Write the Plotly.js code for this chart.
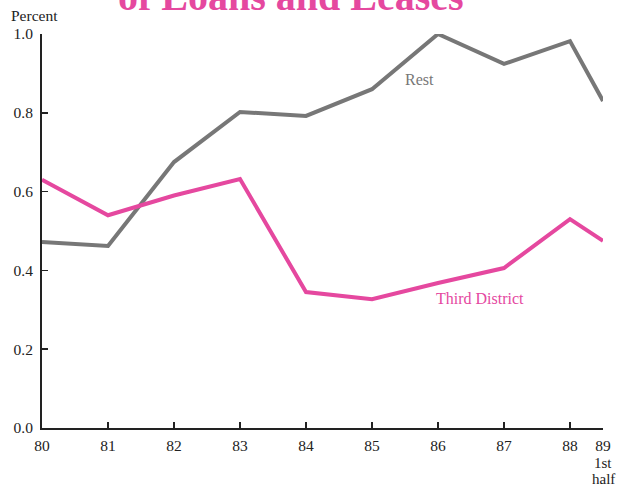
<!DOCTYPE html>
<html>
<head>
<meta charset="utf-8">
<script src="https://cdn.plot.ly/plotly-3.0.1.min.js"></script>
<style>html,body{margin:0;padding:0;background:#fff;}#chart{width:618px;height:488px;}</style>
</head>
<body>
<div id="chart"></div>
<script>
// x positions: years 80..88, then first half of 89 plotted at 88.5
const xPos = [80, 81, 82, 83, 84, 85, 86, 87, 88, 88.5];
const tickVals = [80, 81, 82, 83, 84, 85, 86, 87, 88, 88.5];
const tickText = ['80', '81', '82', '83', '84', '85', '86', '87', '88', '89'];
const lastTickSubLines = ['1st', 'half'];
const restValues = [0.472, 0.462, 0.675, 0.802, 0.792, 0.86, 1.0, 0.924, 0.982, 0.83];
const thirdValues = [0.63, 0.54, 0.59, 0.632, 0.345, 0.327, 0.368, 0.406, 0.53, 0.475];
const yTicks = [0, 0.2, 0.4, 0.6, 0.8, 1.0];
const yTickText = ['0.0', '0.2', '0.4', '0.6', '0.8', '1.0'];

const serif = 'Liberation Serif, Times New Roman, serif';
const magenta = '#e5489f';
const grey = '#777777';

const traces = [
  {x: xPos, y: restValues, mode: 'lines', line: {color: grey, width: 4}, name: 'Rest', hoverinfo: 'skip'},
  {x: xPos, y: thirdValues, mode: 'lines', line: {color: magenta, width: 4}, name: 'Third District', hoverinfo: 'skip'}
];

const annotations = [
  {text: '<b>of Loans and Leases</b>', xref: 'paper', yref: 'paper', x: 0.444, y: 1, xanchor: 'center', yanchor: 'bottom', yshift: 13, showarrow: false, font: {family: serif, size: 40, color: magenta}},
  {text: 'Percent', xref: 'paper', yref: 'paper', x: 0, y: 1, xanchor: 'left', yanchor: 'bottom', xshift: -33, yshift: 8, showarrow: false, font: {family: serif, size: 15.5, color: '#222'}},
  {text: 'Rest', xref: 'x', yref: 'y', x: 85.72, y: 0.885, showarrow: false, font: {family: serif, size: 16, color: grey}},
  {text: 'Third District', xref: 'x', yref: 'y', x: 86.63, y: 0.329, showarrow: false, font: {family: serif, size: 16, color: magenta}}
];
lastTickSubLines.forEach(function (t, i) {
  annotations.push({text: t, xref: 'x', yref: 'paper', x: tickVals[tickVals.length - 1], y: 0, yanchor: 'middle', yshift: -35 - 16 * i, borderpad: 0, showarrow: false, font: {family: serif, size: 15, color: '#222'}});
});

const layout = {
  width: 618, height: 488,
  margin: {l: 42, r: 15, t: 34, b: 60},
  paper_bgcolor: '#fff', plot_bgcolor: '#fff',
  showlegend: false,
  font: {family: serif, size: 15, color: '#222'},
  xaxis: {
    range: [80, 88.5], tickvals: tickVals, ticktext: tickText,
    showgrid: false, zeroline: false, showline: true, linecolor: '#222', linewidth: 2,
    ticks: 'inside', ticklen: 6, tickwidth: 1.5, tickcolor: '#222',
    ticklabelstandoff: 2,
    tickfont: {family: serif, size: 15.5, color: '#222'}
  },
  yaxis: {
    range: [0, 1.0], tickvals: yTicks, ticktext: yTickText,
    showgrid: false, zeroline: false, showline: true, linecolor: '#222', linewidth: 2,
    ticks: 'inside', ticklen: 6, tickwidth: 1.5, tickcolor: '#222',
    ticklabelstandoff: 4,
    tickfont: {family: serif, size: 15.5, color: '#222'}
  },
  annotations: annotations
};

Plotly.newPlot('chart', traces, layout, {displayModeBar: false, staticPlot: true});
</script>
</body>
</html>
